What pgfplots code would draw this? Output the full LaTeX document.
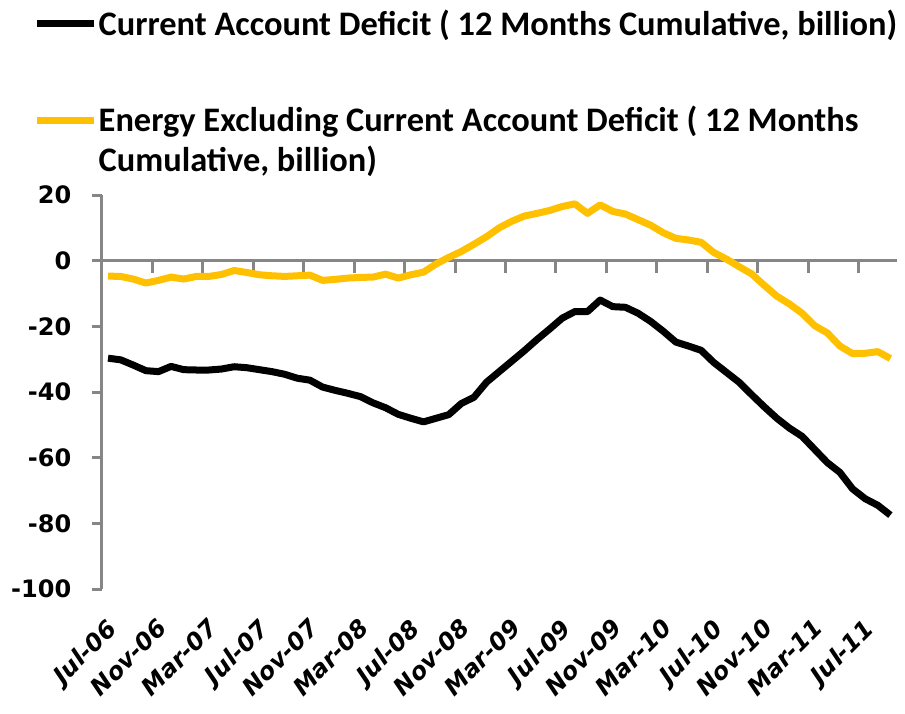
\documentclass[border=0pt]{standalone}
\usepackage{pgfplots}
\usepackage{pgfplotstable}
\pgfplotsset{compat=1.18}
\usepackage{fontspec}
\setmainfont{Carlito}
\newfontfamily\tickfont{DejaVu Sans}
\definecolor{gold}{HTML}{FFC000}
\definecolor{axgray}{HTML}{868686}

\pgfplotstableread{
idx ca en
0 -29.7 -4.7
1 -30.2 -4.8
2 -31.8 -5.6
3 -33.5 -6.8
4 -33.8 -6.0
5 -32.2 -5.0
6 -33.2 -5.6
7 -33.3 -4.8
8 -33.3 -4.8
9 -33.0 -4.2
10 -32.3 -3.0
11 -32.6 -3.6
12 -33.2 -4.3
13 -33.8 -4.6
14 -34.6 -4.8
15 -35.8 -4.6
16 -36.4 -4.4
17 -38.5 -6.0
18 -39.5 -5.7
19 -40.4 -5.3
20 -41.4 -5.1
21 -43.3 -5.0
22 -44.8 -4.1
23 -46.8 -5.3
24 -48.0 -4.3
25 -49.1 -3.5
26 -48.0 -1.0
27 -46.9 1.0
28 -43.5 2.8
29 -41.6 5.0
30 -37.0 7.3
31 -33.8 10.0
32 -30.6 12.0
33 -27.4 13.6
34 -24.0 14.4
35 -20.8 15.3
36 -17.5 16.5
37 -15.5 17.3
38 -15.5 14.4
39 -12.0 17.0
40 -14.0 15.0
41 -14.2 14.2
42 -16.0 12.5
43 -18.5 10.8
44 -21.5 8.5
45 -24.8 6.8
46 -26.0 6.3
47 -27.3 5.6
48 -31.0 2.5
49 -34.0 0.5
50 -37.0 -1.8
51 -40.8 -4.0
52 -44.5 -7.5
53 -48.0 -10.8
54 -51.0 -13.2
55 -53.5 -16.0
56 -57.5 -19.8
57 -61.5 -22.0
58 -64.5 -26.0
59 -69.5 -28.3
60 -72.5 -28.2
61 -74.5 -27.7
62 -77.5 -29.8
}\datatable

\begin{document}
\begin{tikzpicture}
% zero line with its tick marks
\begin{axis}[scale only axis, width=397.5pt, height=197pt,
  xmin=-0.5, xmax=62.5, ymin=-100, ymax=20,
  axis x line=middle, axis y line=none,
  x axis line style={-, axgray, line width=1.5pt},
  xtick={3.5,7.5,...,59.5}, xticklabels={},
  tick align=outside, major tick length=6pt,
  xtick style={axgray, line width=1.5pt}]
\end{axis}
\begin{axis}[name=main, scale only axis, width=397.5pt, height=197pt,
  xmin=-0.5, xmax=62.5, ymin=-100, ymax=20,
  axis y line*=left, axis x line*=bottom,
  x axis line style={draw=none},
  y axis line style={-, axgray, line width=1.5pt},
  ytick={-100,-80,...,20}, yticklabels={-100,-80,-60,-40,-20,0,20},
  ytick style={axgray, line width=1.5pt},
  tick align=outside, major tick length=5pt,
  xtick={-0.2,3.8,...,59.8},
  xticklabels={Jul-06,Nov-06,Mar-07,Jul-07,Nov-07,Mar-08,Jul-08,Nov-08,Mar-09,Jul-09,Nov-09,Mar-10,Jul-10,Nov-10,Mar-11,Jul-11},
  xtick style={draw=none},
  xticklabel shift=9pt,
  yticklabel style={font=\tickfont\bfseries\fontsize{12}{14}\selectfont, anchor=east, inner sep=0pt, xshift=-10pt},
  xticklabel style={font=\tickfont\bfseries\itshape\fontsize{12}{14}\selectfont, rotate=45, anchor=north east, inner sep=0pt},
  legend style={at={(rel axis cs:-0.0855,1.4796)}, anchor=north west, draw=none, fill=none, inner sep=0pt, outer sep=0pt,
    font=\fontsize{17.2}{20}\selectfont\bfseries,
    cells={anchor=base west, inner sep=0pt}, column sep=-1.3pt, row sep=29.8pt},
  legend image code/.code={\draw[#1] (0pt,5.8pt) -- (28.3pt,5.8pt);},
  ]
\addplot[black, line width=3.5pt, line join=round] table[x=idx, y=ca] {\datatable};
\addlegendentry{Current Account Deficit ( 12 Months Cumulative, billion)}
\addplot[gold, line width=3.5pt, line join=round] table[x=idx, y=en] {\datatable};
\addlegendentry{\vtop{\hbox{Energy Excluding Current Account Deficit ( 12 Months}\hbox{Cumulative, billion)}}}
\end{axis}
\pgfresetboundingbox
\path[use as bounding box] ([shift={(-50.85pt,-62pt)}]main.south west) rectangle ([shift={(4.15pt,97.5pt)}]main.north east);
\end{tikzpicture}
\end{document}
